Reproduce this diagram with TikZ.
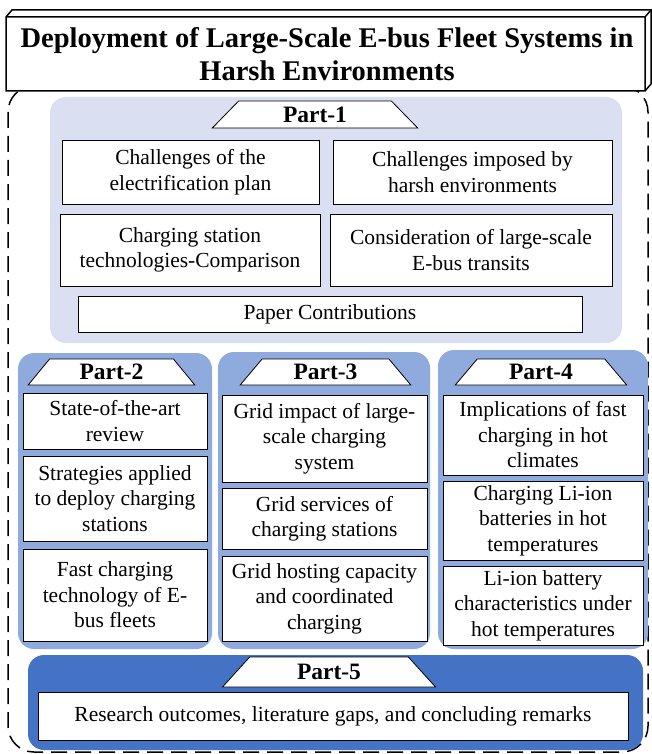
\documentclass[tikz,border=0pt]{standalone}
\usepackage{fontspec}
\setmainfont{Liberation Serif}
\usetikzlibrary{shapes.geometric,positioning}
\definecolor{partone}{RGB}{218,224,242}
\definecolor{partmid}{RGB}{143,170,220}
\definecolor{partfive}{RGB}{68,114,196}
\tikzset{
  panel/.style={rounded corners=16pt,draw=none},
  topic/.style={draw,fill=white,thick,align=center,inner sep=0pt,
    font=\fontsize{21.5}{25.5}\selectfont},
  parttag/.style={draw,fill=white,thick,trapezium,trapezium angle=55,
    trapezium stretches=true,inner sep=0pt,font=\fontsize{23.5}{25}\selectfont\bfseries}
}

\begin{document}
\begin{tikzpicture}[x=1pt,y=-1pt]
   \useasboundingbox (0,0) rectangle (651,754);
   \draw[line width=1.5pt,dash pattern=on 16pt off 8pt,rounded corners=26pt] (8,86) rectangle (648,752);
   \fill[partone,panel] (50,97) rectangle (622,343);
   \fill[partmid,panel] (18,353) rectangle (212,649);
   \fill[partmid,panel] (218,352) rectangle (430,649);
   \fill[partmid,panel] (438,350) rectangle (648,649);
   \fill[partfive,panel] (28,655) rectangle (643,750);
   \draw[line width=1.5pt,fill=white] (6,17) -- (12,10) -- (651,10) -- (651,84) -- (645,91) -- (6,91) -- cycle;
   \draw[line width=1.5pt] (6,17) -- (645,17) -- (645,91) (645,17) -- (651,10);
   \node[align=center,font=\fontsize{28.5}{33}\selectfont\bfseries] (title) at (327,54)
      {Deployment of Large-Scale E-bus Fleet Systems in\\Harsh Environments};
   \node[parttag,minimum width=206,minimum height=27] (p1) at (315,114.5) {Part-1};
   \node[topic,minimum width=257,minimum height=64] (c11) at (190.5,172) {Challenges of the\\electrification plan};
   \node[topic,minimum width=279,minimum height=64] (c12) at (472.5,172) {Challenges imposed by\\harsh environments};
   \node[topic,minimum width=260,minimum height=72] (c13) at (190,250) {Charging station\\technologies-Comparison};
   \node[topic,minimum width=282,minimum height=72] (c14) at (471,250) {Consideration of large-scale\\E-bus transits};
   \node[topic,minimum width=504,minimum height=36] (c15) at (330,314) {Paper Contributions};
   \node[parttag,minimum width=167,minimum height=26] (p2) at (111.5,372) {Part-2};
   \node[topic,minimum width=184,minimum height=56] (c21) at (115,421) {State-of-the-art\\review};
   \node[topic,minimum width=184,minimum height=85] (c22) at (115,498.5) {Strategies applied\\to deploy charging\\stations};
   \node[topic,minimum width=184,minimum height=92] (c23) at (115,595) {Fast charging\\technology of E-\\bus fleets};
   \node[parttag,minimum width=171,minimum height=26] (p3) at (325.5,372) {Part-3};
   \node[topic,minimum width=205,minimum height=87] (c31) at (324.5,438.5) {Grid impact of large-\\scale charging\\system};
   \node[topic,minimum width=205,minimum height=61] (c32) at (324.5,518.5) {Grid services of\\charging stations};
   \node[topic,minimum width=205,minimum height=85] (c33) at (324.5,598.5) {Grid hosting capacity\\and coordinated\\charging};
   \node[parttag,minimum width=172,minimum height=26] (p4) at (541,372) {Part-4};
   \node[topic,minimum width=200,minimum height=80] (c41) at (543,435) {Implications of fast\\charging in hot\\climates};
   \node[topic,minimum width=200,minimum height=79] (c42) at (543,520.5) {Charging Li-ion\\batteries in hot\\temperatures};
   \node[topic,minimum width=200,minimum height=79] (c43) at (543,605.5) {Li-ion battery\\characteristics under\\hot temperatures};
   \node[parttag,minimum width=214,minimum height=30] (p5) at (329,672) {Part-5};
   \node[topic,minimum width=590,minimum height=48] (c51) at (333,716) {Research outcomes, literature gaps, and concluding remarks};
\end{tikzpicture}
\end{document}
